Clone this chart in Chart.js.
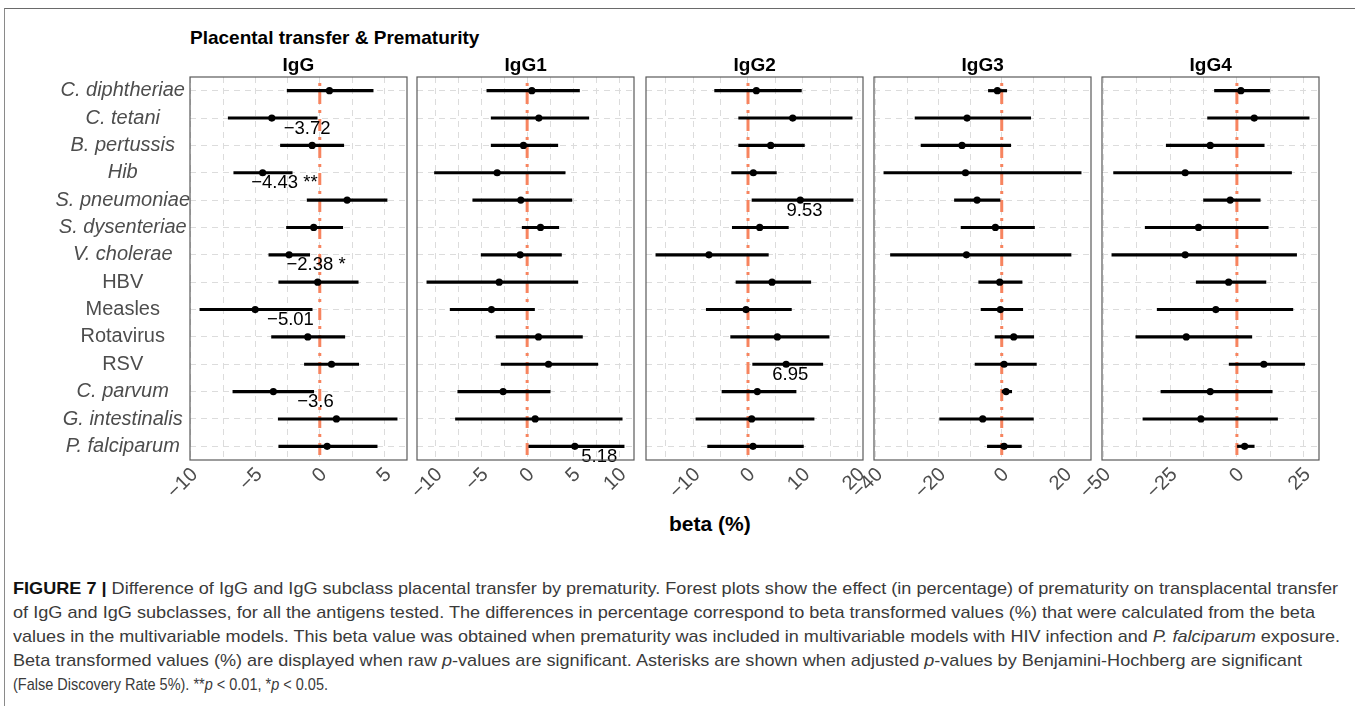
<!DOCTYPE html>
<html>
<head>
<meta charset="utf-8">
<script src="https://cdn.jsdelivr.net/npm/chart.js@4.4.0/dist/chart.umd.min.js"></script>
<style>
  body { margin: 0; width: 1355px; height: 706px; overflow: hidden; position: relative; background: #fff;
         font-family: "Liberation Sans", Arial, sans-serif; }
  .frame { position: absolute; left: 4px; top: 8px; right: -4px; bottom: -4px;
           border-left: 1.5px solid #8a8a8a; border-top: 1.5px solid #6a6a6a; }
  .panel { position: absolute; }
  .title { position: absolute; font-weight: bold; font-size: 19px; line-height: 19px; color: #000; white-space: nowrap; }
  .caption div { position: absolute; left: 13px; font-size: 17px; line-height: 24px; color: #3a3a3a;
                 white-space: nowrap; transform-origin: 0 0; }
  .caption b { color: #111; }
</style>
</head>
<body>
<div class="frame"></div>
<div class="title" style="left:190px; top:28px;">Placental transfer &amp; Prematurity</div>
<div class="title" id="xtitle" style="top:514px; font-size:21px;">beta (%)</div>

<div class="caption">
  <div style="top:577px;"><b>FIGURE 7 |</b> Difference of IgG and IgG subclass placental transfer by prematurity. Forest plots show the effect (in percentage) of prematurity on transplacental transfer</div>
  <div style="top:601px;">of IgG and IgG subclasses, for all the antigens tested. The differences in percentage correspond to beta transformed values (%) that were calculated from the beta</div>
  <div style="top:625px;">values in the multivariable models. This beta value was obtained when prematurity was included in multivariable models with HIV infection and <i>P. falciparum</i> exposure.</div>
  <div style="top:649px;">Beta transformed values (%) are displayed when raw <i>p</i>-values are significant. Asterisks are shown when adjusted <i>p</i>-values by Benjamini-Hochberg are significant</div>
  <div style="top:673px;">(False Discovery Rate 5%). **<i>p</i> &lt; 0.01, *<i>p</i> &lt; 0.05.</div>
</div>

<script>
// antigens, top to bottom
const antigens = ['C. diphtheriae', 'C. tetani', 'B. pertussis', 'Hib', 'S. pneumoniae', 'S. dysenteriae',
  'V. cholerae', 'HBV', 'Measles', 'Rotavirus', 'RSV', 'C. parvum', 'G. intestinalis', 'P. falciparum'];
const plainNames = ['HBV', 'Measles', 'Rotavirus', 'RSV'];

// beta (%) estimates and 95% CI
const iggEst  = [0.75, -3.72, -0.59, -4.43, 2.12, -0.47, -2.38, -0.16, -5.01, -0.93, 0.91, -3.6, 1.29, 0.57];
const iggLow  = [-2.53, -7.1, -3.05, -6.67, -0.98, -2.58, -3.95, -3.18, -9.3, -3.74, -1.19, -6.74, -3.22, -3.18];
const iggHigh = [4.14, -0.2, 1.86, -2.14, 5.22, 1.78, -0.78, 2.98, -0.59, 1.94, 3.02, -0.47, 6.0, 4.45];
const iggStars = [null, '', null, ' **', null, null, ' *', null, '', null, null, '', null, null];

const igg1Est  = [0.51, 1.27, -0.4, -3.26, -0.69, 1.45, -0.76, -3.04, -3.88, 1.23, 2.32, -2.61, 0.87, 5.18];
const igg1Low  = [-4.38, -3.91, -3.91, -10.07, -5.91, -0.54, -5.0, -10.9, -8.37, -3.37, -2.83, -7.54, -7.79, 0.18];
const igg1High = [5.69, 6.7, 3.33, 4.13, 4.86, 3.44, 3.73, 5.51, 0.8, 6.01, 7.68, 2.5, 10.33, 10.54];
const igg1Stars = [null, null, null, null, null, null, null, null, null, null, null, null, null, ''];

const igg2Est  = [1.52, 8.15, 4.14, 0.97, 9.53, 2.13, -7.12, 4.38, -0.36, 5.35, 6.95, 1.7, 0.67, 0.91];
const igg2Low  = [-6.08, -1.7, -1.7, -2.98, 0.73, -2.86, -16.79, -2.19, -7.6, -3.16, 0.85, -4.74, -9.49, -7.36];
const igg2High = [9.73, 18.98, 10.28, 5.17, 19.16, 7.36, 3.71, 11.44, 7.91, 14.78, 13.63, 8.76, 12.04, 10.1];
const igg2Stars = [null, null, null, null, '', null, null, null, null, null, '', null, null, null];

const igg3Est  = [-1.38, -11.0, -12.6, -11.5, -7.83, -2.01, -11.2, -0.63, -0.42, 3.81, 0.74, 1.38, -6.03, 0.74];
const igg3Low  = [-4.23, -27.5, -25.6, -37.4, -15.0, -12.9, -35.3, -7.3, -6.56, -2.12, -8.47, 0.1, -19.7, -4.55];
const igg3High = [1.59, 9.2, 2.86, 25.2, -0.53, 10.4, 22.0, 6.46, 6.67, 10.16, 11.0, 3.17, 10.05, 6.24];
const igg3Stars = [null, null, null, null, null, null, null, null, null, null, null, null, null, null];

const igg4Est  = [1.5, 6.5, -10.0, -19.4, -2.5, -14.4, -19.4, -3.1, -7.9, -19.0, 10.1, -10.0, -13.5, 2.9];
const igg4Low  = [-8.4, -11.0, -26.5, -46.25, -12.5, -34.4, -46.9, -15.25, -29.9, -37.9, -2.9, -28.5, -35.25, 0.2];
const igg4High = [12.25, 27.1, 10.25, 20.5, 8.75, 11.75, 22.4, 10.9, 21.0, 5.6, 25.4, 13.25, 15.25, 6.5];
const igg4Stars = [null, null, null, null, null, null, null, null, null, null, null, null, null, null];

const panelLeft = [190, 417, 646, 874, 1102];
const panelTop = 77, panelW = 217, panelH = 383;

Chart.defaults.font.family = '"Liberation Sans", Arial, sans-serif';

function fmt(v) {
  return String(v).replace('-', '\u2212');
}

// ggplot style 5% expansion of the data range
function axisRange(low, high) {
  const lo = Math.min(...low), hi = Math.max(...high);
  const pad = (hi - lo) * 0.05;
  return [lo - pad, hi + pad];
}

const panelDecor = {
  id: 'panelDecor',
  beforeDatasetsDraw(chart) {
    const { ctx, chartArea: a, scales: { x } } = chart;
    const x0 = x.getPixelForValue(0);
    ctx.save();
    ctx.strokeStyle = '#f7845f';
    ctx.lineWidth = 3;
    ctx.setLineDash([3, 6, 12, 6]);
    ctx.lineDashOffset = -6;
    ctx.beginPath();
    ctx.moveTo(x0, a.top);
    ctx.lineTo(x0, a.bottom);
    ctx.stroke();
    ctx.restore();
  },
  afterDatasetsDraw(chart, args, opts) {
    const { ctx, scales: { x, y } } = chart;
    ctx.save();
    ctx.fillStyle = '#000';
    ctx.font = '18.5px "Liberation Sans", Arial, sans-serif';
    ctx.textAlign = 'center';
    ctx.textBaseline = 'middle';
    opts.stars.forEach((s, i) => {
      if (s === null) return;
      ctx.fillText(fmt(opts.est[i]) + s, x.getPixelForValue(opts.at[i]), y.getPixelForValue(i) + 10.5);
    });
    ctx.restore();
  },
  afterDraw(chart) {
    const { ctx, chartArea: a } = chart;
    ctx.save();
    ctx.strokeStyle = '#5a5a5a';
    ctx.lineWidth = 1.2;
    ctx.strokeRect(a.left, a.top, a.width, a.height);
    ctx.restore();
  }
};

function createPanel(idx, title, est, low, high, stars, noteAt, major) {
  const yw = idx === 0 ? 190 : 40;
  const canvas = document.createElement('canvas');
  canvas.className = 'panel';
  canvas.width = yw + panelW + 24;
  canvas.height = 20 + panelH + 60;
  canvas.style.left = (panelLeft[idx] - yw) + 'px';
  canvas.style.top = (panelTop - 20) + 'px';
  document.body.appendChild(canvas);

  const head = document.createElement('div');
  head.className = 'title';
  head.textContent = title;
  document.body.appendChild(head);
  head.style.top = '55px';
  head.style.left = (panelLeft[idx] + panelW / 2 - head.offsetWidth / 2) + 'px';

  const [xmin, xmax] = axisRange(low, high);
  const step = major / 2;
  const gridVals = [];
  for (let v = Math.ceil(xmin / step) * step; v <= xmax; v += step) gridVals.push(+v.toFixed(6));

  new Chart(canvas, {
    type: 'bar',
    data: {
      labels: antigens,
      datasets: [
        {
          type: 'line',
          indexAxis: 'y',
          data: est,
          showLine: false,
          pointRadius: 3.6,
          pointBackgroundColor: '#000',
          pointBorderWidth: 0
        },
        {
          type: 'bar',
          data: low.map((l, i) => [l, high[i]]),
          backgroundColor: '#000',
          borderWidth: 0,
          borderSkipped: false,
          barThickness: 2.5
        }
      ]
    },
    options: {
      indexAxis: 'y',
      responsive: false,
      animation: false,
      layout: { padding: { top: 20, right: 24, left: 0, bottom: 0 } },
      plugins: {
        legend: { display: false },
        tooltip: { enabled: false },
        panelDecor: { est: est, stars: stars, at: noteAt }
      },
      scales: {
        x: {
          type: 'linear',
          min: xmin,
          max: xmax,
          afterBuildTicks: axis => { axis.ticks = gridVals.map(v => ({ value: v })); },
          afterFit: axis => { axis.height = 60; },
          ticks: {
            autoSkip: false,
            minRotation: 45,
            maxRotation: 45,
            padding: 3,
            labelOffset: 4,
            color: '#4d4d4d',
            font: { size: 20 },
            callback: v => (Math.abs(v / major - Math.round(v / major)) < 1e-6 ? fmt(v) : '')
          },
          grid: { color: '#dcdcdc', lineWidth: 1, drawTicks: false },
          border: { display: false, dash: [6, 5] }
        },
        y: {
          type: 'category',
          offset: true,
          afterFit: axis => { axis.width = yw; },
          ticks: {
            display: idx === 0,
            crossAlign: 'center',
            padding: 0,
            color: '#4d4d4d',
            font: ctx => ({ size: 20, style: plainNames.includes(antigens[ctx.index]) ? 'normal' : 'italic' })
          },
          grid: { offset: false, color: '#dcdcdc', lineWidth: 1, drawTicks: false },
          border: { display: false, dash: [6, 5] }
        }
      }
    },
    plugins: [panelDecor]
  });
}

createPanel(0, 'IgG', iggEst, iggLow, iggHigh, iggStars,
  [0, -0.98, 0, -2.74, 0, 0, -0.29, 0, -2.27, 0, 0, -0.33, 0, 0], 5);
createPanel(1, 'IgG1', igg1Est, igg1Low, igg1High, igg1Stars,
  [0, 0, 0, 0, 0, 0, 0, 0, 0, 0, 0, 0, 0, 7.83], 5);
createPanel(2, 'IgG2', igg2Est, igg2Low, igg2High, igg2Stars,
  [0, 0, 0, 0, 10.3, 0, 0, 0, 0, 0, 7.7, 0, 0, 0], 10);
createPanel(3, 'IgG3', igg3Est, igg3Low, igg3High, igg3Stars,
  [0, 0, 0, 0, 0, 0, 0, 0, 0, 0, 0, 0, 0, 0], 20);
createPanel(4, 'IgG4', igg4Est, igg4Low, igg4High, igg4Stars,
  [0, 0, 0, 0, 0, 0, 0, 0, 0, 0, 0, 0, 0, 0], 25);

// axis title, placed where the printed figure has it
const xt = document.getElementById('xtitle');
xt.style.left = (710 - xt.offsetWidth / 2) + 'px';

// caption lines squeezed to the widths of the printed figure
const captionRight = [1338, 1315, 1340, 1302, 328];
document.querySelectorAll('.caption div').forEach((el, i) => {
  const w = el.getBoundingClientRect().width;
  el.style.transform = 'scaleX(' + ((captionRight[i] - 13) / w) + ')';
});
</script>
</body>
</html>
